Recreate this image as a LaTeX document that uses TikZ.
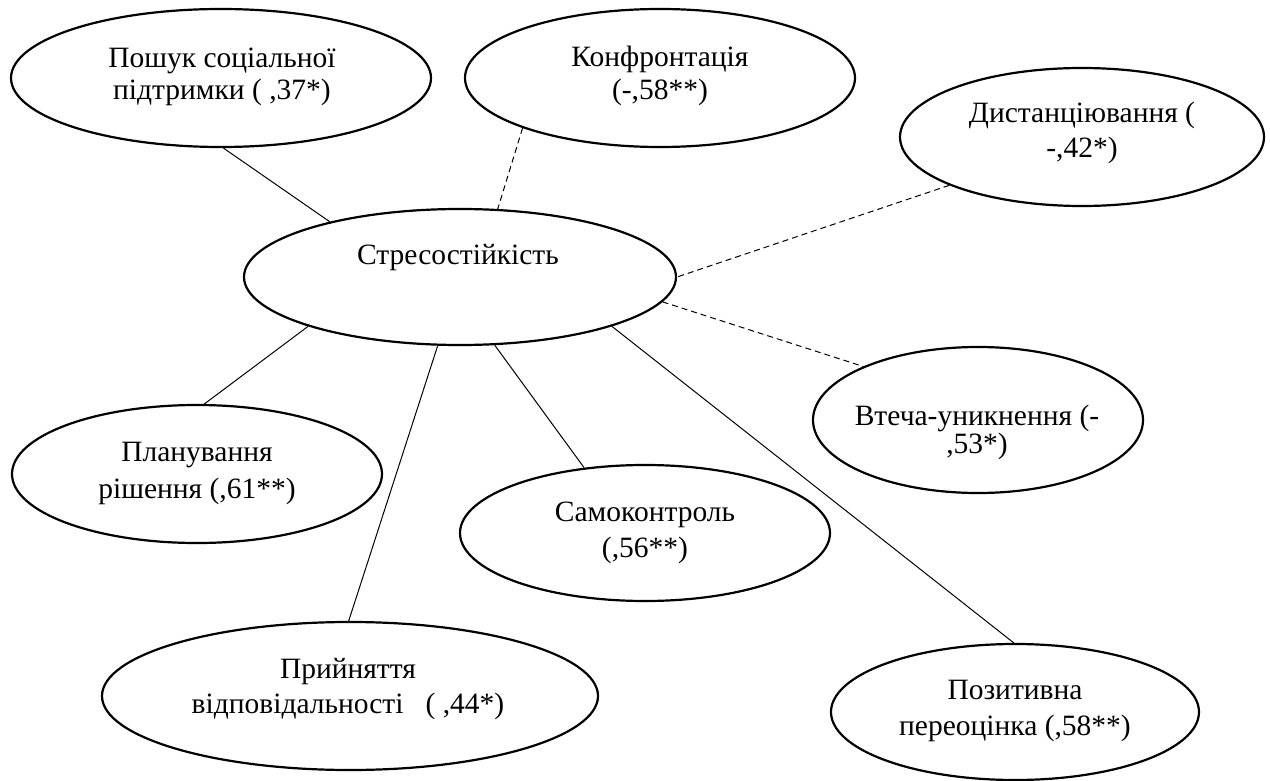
\documentclass[tikz,border=0pt]{standalone}
\usepackage{fontspec}
\setmainfont{Liberation Serif}
\usetikzlibrary{shapes.geometric}
\newcommand\twolines[3]{\vtop{\baselineskip=#1\lineskiplimit=-\maxdimen\lineskip=0pt\halign{\hfil##\hfil\cr#2\cr#3\cr}}}
\begin{document}
\begin{tikzpicture}[x=1pt,y=-1pt,
  oval/.style={ellipse, draw, line width=2.2pt, inner sep=0pt},
  lbl/.style={anchor=base, inner sep=0pt, font=\fontsize{29.5}{35}\selectfont},
  link/.style={line width=1pt},
  dlink/.style={line width=1pt, dash pattern=on 6pt off 4pt}]
\useasboundingbox (0,0) rectangle (1270,781);
% ellipses
\node[oval, minimum width=420pt, minimum height=138pt] (poshuk) at (221,78) {};
\node[oval, minimum width=390pt, minimum height=138pt] (konf) at (660,78) {};
\node[oval, minimum width=364pt, minimum height=138pt] (dist) at (1082,137) {};
\node[oval, minimum width=432pt, minimum height=136pt] (stres) at (460,277) {};
\node[oval, minimum width=330pt, minimum height=146pt] (vtecha) at (978,420) {};
\node[oval, minimum width=370pt, minimum height=138pt] (plan) at (197,474) {};
\node[oval, minimum width=370pt, minimum height=136pt] (samo) at (645,533) {};
\node[oval, minimum width=496pt, minimum height=148pt] (pryin) at (350,696) {};
\node[oval, minimum width=368pt, minimum height=136pt] (poz) at (1015,712) {};
% texts
\node[lbl] (poshukT) at (222,68) {\twolines{32pt}{Пошук соціальної}{підтримки ( ,37*)}};
\node[lbl] (konfT) at (660,67) {\twolines{33pt}{Конфронтація}{(-,58**)}};
\node[lbl] (distT) at (1082,123) {\twolines{35pt}{Дистанціювання (}{-,42*)}};
\node[lbl] (stresT) at (458,264) {Стресостійкість};
\node[lbl] (vtechaT) at (977,425) {\twolines{28pt}{Втеча-уникнення (-}{,53*)}};
\node[lbl] (planT) at (197,461) {\twolines{37pt}{Планування}{рішення (,61**)}};
\node[lbl] (samoT) at (645,521) {\twolines{36pt}{Самоконтроль}{(,56**)}};
\node[lbl] (pryinT) at (348,678) {\twolines{35pt}{Прийняття}{відповідальності\ \ \ ( ,44*)}};
\node[lbl] (pozT) at (1015,699) {\twolines{36pt}{Позитивна}{переоцінка (,58**)}};
% connectors
\draw[link] (poshuk.272) -- (stres.157.8);
\draw[dlink] (konf.200.1) -- (stres.61);
\draw[dlink] (dist.200.6) -- (stres.0);
\draw[dlink] (stres.-7.6) -- (vtecha.155);
\draw[link] (stres.198.1) -- (plan.84.9);
\draw[link] (stres.252.6) -- (pryin.91.5);
\draw[link] (stres.-63.4) -- (samo.133.5);
\draw[link] (stres.-18.1) -- (poz.91.7);
\end{tikzpicture}
\end{document}
